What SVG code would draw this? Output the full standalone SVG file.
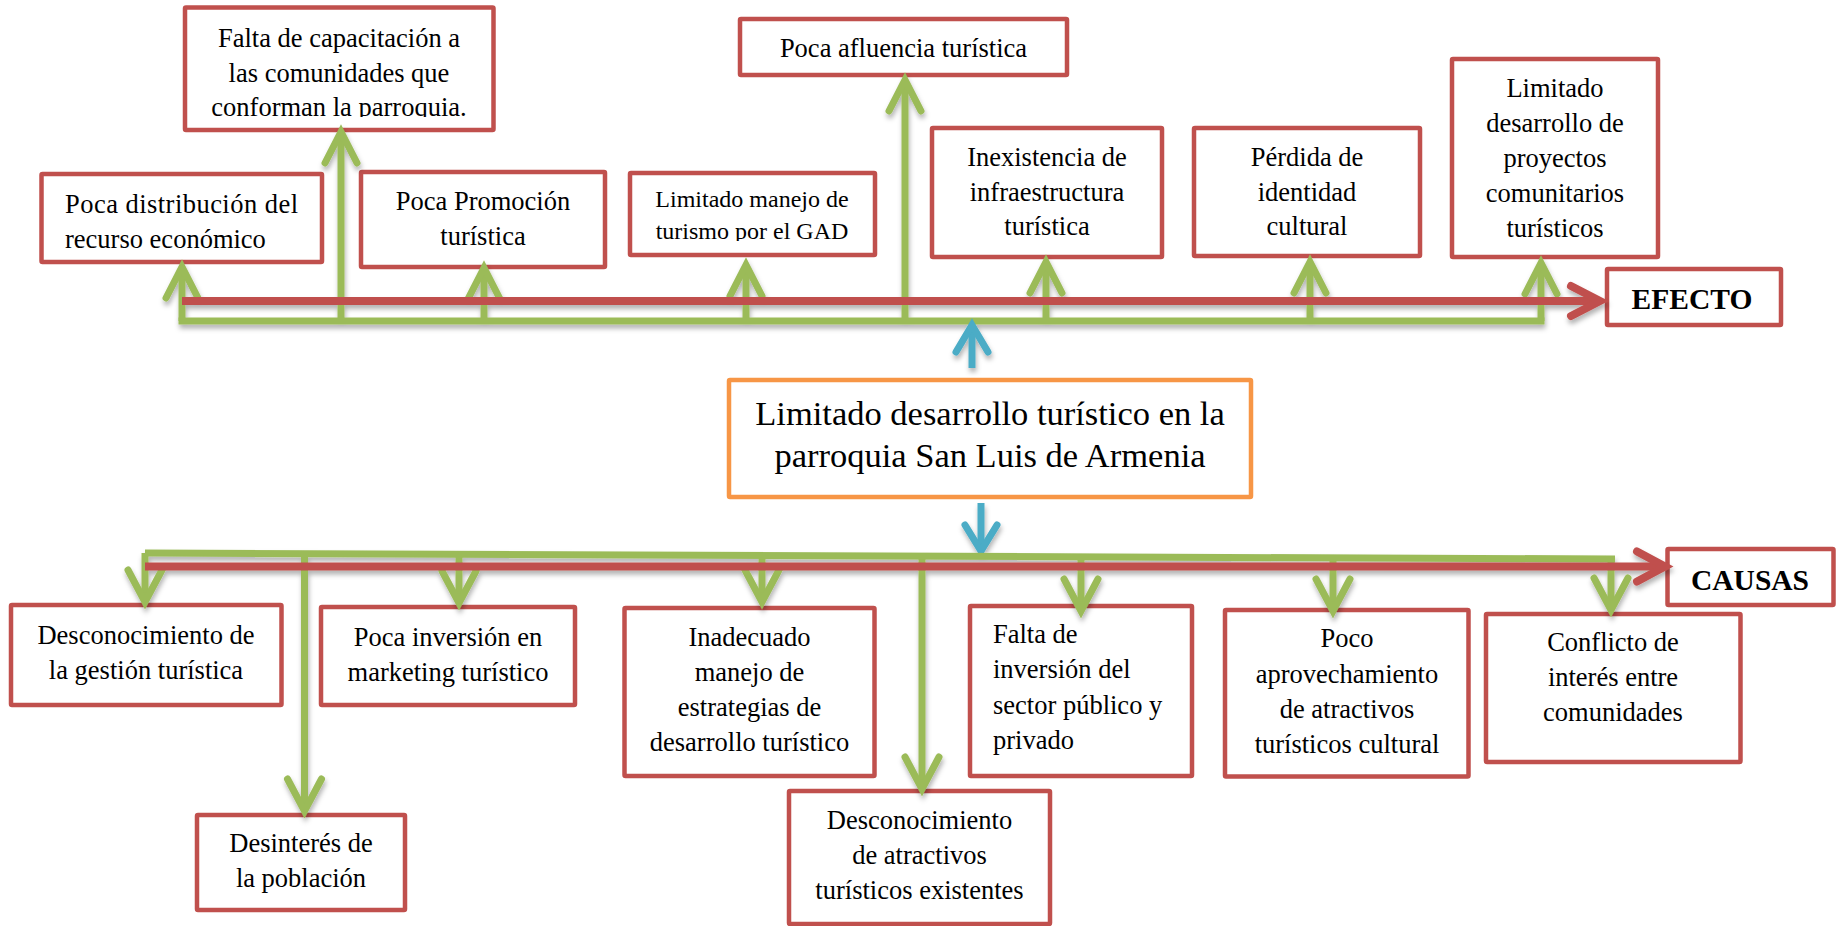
<svg xmlns="http://www.w3.org/2000/svg" width="1843" height="926" viewBox="0 0 1843 926">
<defs>
<style>
.box{fill:#fff;stroke:#C0504D;stroke-width:4.5}
.main{fill:#fff;stroke:#F79646;stroke-width:4.5}
.t{font-family:"Liberation Serif","Times New Roman",serif;font-size:26.5px;fill:#000}
.c{text-anchor:middle}
.bold{font-weight:bold;font-size:29.5px}
.g{stroke:#9BBB59;stroke-width:7;fill:none;stroke-linecap:round;stroke-linejoin:miter}
.gs{stroke:#9BBB59;stroke-width:7;fill:none;stroke-linecap:butt}
.r{stroke:#C0504D;stroke-width:8;fill:none;stroke-linecap:butt}
.rh{stroke:#C0504D;stroke-width:8;fill:none;stroke-linecap:round;stroke-linejoin:miter}
.b{stroke:#4BACC6;stroke-width:7;fill:none;stroke-linecap:butt}
.bh{stroke:#4BACC6;stroke-width:7;fill:none;stroke-linecap:round;stroke-linejoin:miter}
</style>
<filter id="sh" x="-5%" y="-20%" width="110%" height="140%">
<feDropShadow dx="1" dy="4" stdDeviation="2.5" flood-color="#000" flood-opacity="0.3"/>
</filter>
<clipPath id="clipFalta"><rect x="185" y="7" width="309" height="110"/></clipPath>
<clipPath id="clipGAD"><rect x="630" y="173" width="245" height="68"/></clipPath>
</defs>
<rect width="1843" height="926" fill="#fff"/>

<!-- EFECTOS -->
<g id="e1">
<rect class="box" x="41.5" y="174" width="280.5" height="88" rx="1"/>
<text class="t" x="65" y="213" textLength="233" lengthAdjust="spacing">Poca distribución del</text>
<text class="t" x="65" y="248">recurso económico</text>
</g>
<g id="e2">
<rect class="box" x="185" y="7.5" width="308.5" height="122.5" rx="1"/>
<text class="t c" clip-path="url(#clipFalta)"><tspan x="339" y="46.5">Falta de capacitación a</tspan><tspan x="339" y="81.5">las comunidades que</tspan><tspan x="339" y="116">conforman la parroquia.</tspan></text>
</g>
<g id="e3">
<rect class="box" x="361" y="172" width="244" height="95" rx="1"/>
<text class="t c"><tspan x="483" y="210">Poca Promoción</tspan><tspan x="483" y="245">turística</tspan></text>
</g>
<g id="e4">
<rect class="box" x="630" y="173" width="245" height="82" rx="1"/>
<text class="t c" style="font-size:24px" clip-path="url(#clipGAD)"><tspan x="752" y="207">Limitado manejo de</tspan><tspan x="752" y="239">turismo por el GAD</tspan></text>
</g>
<g id="e5">
<rect class="box" x="740" y="19" width="327" height="56" rx="1"/>
<text class="t c" x="903.5" y="57">Poca afluencia turística</text>
</g>
<g id="e6">
<rect class="box" x="932" y="128" width="230" height="129" rx="1"/>
<text class="t c"><tspan x="1047" y="165.5">Inexistencia de</tspan><tspan x="1047" y="200.5">infraestructura</tspan><tspan x="1047" y="235">turística</tspan></text>
</g>
<g id="e7">
<rect class="box" x="1194" y="128" width="226" height="128" rx="1"/>
<text class="t c"><tspan x="1307" y="165.5">Pérdida de</tspan><tspan x="1307" y="200.5">identidad</tspan><tspan x="1307" y="235">cultural</tspan></text>
</g>
<g id="e8">
<rect class="box" x="1452" y="59" width="206" height="198" rx="1"/>
<text class="t c"><tspan x="1555" y="96.5">Limitado</tspan><tspan x="1555" y="131.5">desarrollo de</tspan><tspan x="1555" y="166.5">proyectos</tspan><tspan x="1555" y="202">comunitarios</tspan><tspan x="1555" y="237">turísticos</tspan></text>
</g>
<g id="efecto">
<rect class="box" x="1607" y="269" width="174" height="56" rx="1"/>
<text class="t c bold" x="1692" y="309">EFECTO</text>
</g>

<!-- PROBLEMA CENTRAL -->
<g id="problema">
<rect class="main" x="729" y="380" width="522" height="117" rx="1"/>
<text class="t c" style="font-size:34.5px"><tspan x="990" y="425">Limitado desarrollo turístico en la</tspan><tspan x="990" y="467">parroquia San Luis de Armenia</tspan></text>
</g>

<!-- CAUSAS -->
<g id="c1">
<rect class="box" x="11" y="605" width="270.5" height="100" rx="1"/>
<text class="t c"><tspan x="146" y="644">Desconocimiento de</tspan><tspan x="146" y="679">la gestión turística</tspan></text>
</g>
<g id="c2">
<rect class="box" x="321" y="607" width="254" height="98" rx="1"/>
<text class="t c"><tspan x="448" y="646">Poca inversión en</tspan><tspan x="448" y="681">marketing turístico</tspan></text>
</g>
<g id="c3">
<rect class="box" x="197" y="815" width="208" height="95" rx="1"/>
<text class="t c"><tspan x="301" y="852">Desinterés de</tspan><tspan x="301" y="887">la población</tspan></text>
</g>
<g id="c4">
<rect class="box" x="624.5" y="608" width="250" height="168" rx="1"/>
<text class="t c"><tspan x="749.5" y="646">Inadecuado</tspan><tspan x="749.5" y="681">manejo de</tspan><tspan x="749.5" y="716">estrategias de</tspan><tspan x="749.5" y="751">desarrollo turístico</tspan></text>
</g>
<g id="c5">
<rect class="box" x="789" y="791" width="261" height="133" rx="1"/>
<text class="t c"><tspan x="919.5" y="829">Desconocimiento</tspan><tspan x="919.5" y="864">de atractivos</tspan><tspan x="919.5" y="899">turísticos existentes</tspan></text>
</g>
<g id="c6">
<rect class="box" x="970" y="606" width="222" height="170" rx="1"/>
<text class="t"><tspan x="993" y="643">Falta de</tspan><tspan x="993" y="678">inversión del</tspan><tspan x="993" y="714">sector público y</tspan><tspan x="993" y="749">privado</tspan></text>
</g>
<g id="c7">
<rect class="box" x="1225" y="610" width="243.5" height="166.5" rx="1"/>
<text class="t c"><tspan x="1347" y="647">Poco</tspan><tspan x="1347" y="683">aprovechamiento</tspan><tspan x="1347" y="718">de atractivos</tspan><tspan x="1347" y="753">turísticos cultural</tspan></text>
</g>
<g id="c8">
<rect class="box" x="1486" y="614" width="254.5" height="148" rx="1"/>
<text class="t c"><tspan x="1613" y="651">Conflicto de</tspan><tspan x="1613" y="686">interés entre</tspan><tspan x="1613" y="721">comunidades</tspan></text>
</g>
<g id="causas">
<rect class="box" x="1667.5" y="549" width="166" height="56" rx="1"/>
<text class="t c bold" x="1750" y="590">CAUSAS</text>
</g>

<!-- CONNECTORS -->
<g id="connectors" filter="url(#sh)">
<!-- effects green bracket and arrows -->
<path class="gs" d="M178.5,321 H1544.5"/>
<path class="gs" d="M182,321 V273 M341,321 V138 M484,321 V274 M746,321 V271 M905,321 V86 M1046,321 V268 M1310,321 V268 M1541,321 V269"/>
<path class="g" d="M166,298 L182,267 L198,298 M325,163 L341,132 L357,163 M468,299 L484,268 L500,299 M730,296 L746,265 L762,296 M889,111 L905,80 L921,111 M1030,293 L1046,262 L1062,293 M1294,293 L1310,262 L1326,293 M1525,294 L1541,263 L1557,294"/>
<!-- effects red axis -->
<path class="r" d="M182,301 H1595"/>
<path class="rh" d="M1571,286 L1600,301 L1571,316"/>
<!-- blue arrows -->
<path class="b" d="M972,368 V330"/>
<path class="bh" d="M956,352 L972,325 L988,352"/>
<path class="b" d="M981,503 V546"/>
<path class="bh" d="M965,525 L981,551 L997,525"/>
<!-- causes green line and arrows -->
<path class="gs" d="M145,553 L1615,559"/>
<path class="gs" d="M145,553 V596 M304.5,554 V805 M459,554.5 V597 M762,556 V596 M922,556.5 V783 M1081,557 V605 M1333,558 V605 M1611,559 V604"/>
<path class="g" d="M128,570 L145,602 L162,570 M287.5,779 L304.5,811 L321.5,779 M442,571 L459,603 L476,571 M745,570 L762,602 L779,570 M905,757 L922,789 L939,757 M1064,579 L1081,611 L1098,579 M1316,579 L1333,611 L1350,579 M1594,578 L1611,610 L1628,578"/>
<!-- causes red axis -->
<path class="r" d="M145,566.5 H1660"/>
<path class="rh" d="M1637,551.5 L1665,566.5 L1637,581.5"/>
</g>
</svg>
